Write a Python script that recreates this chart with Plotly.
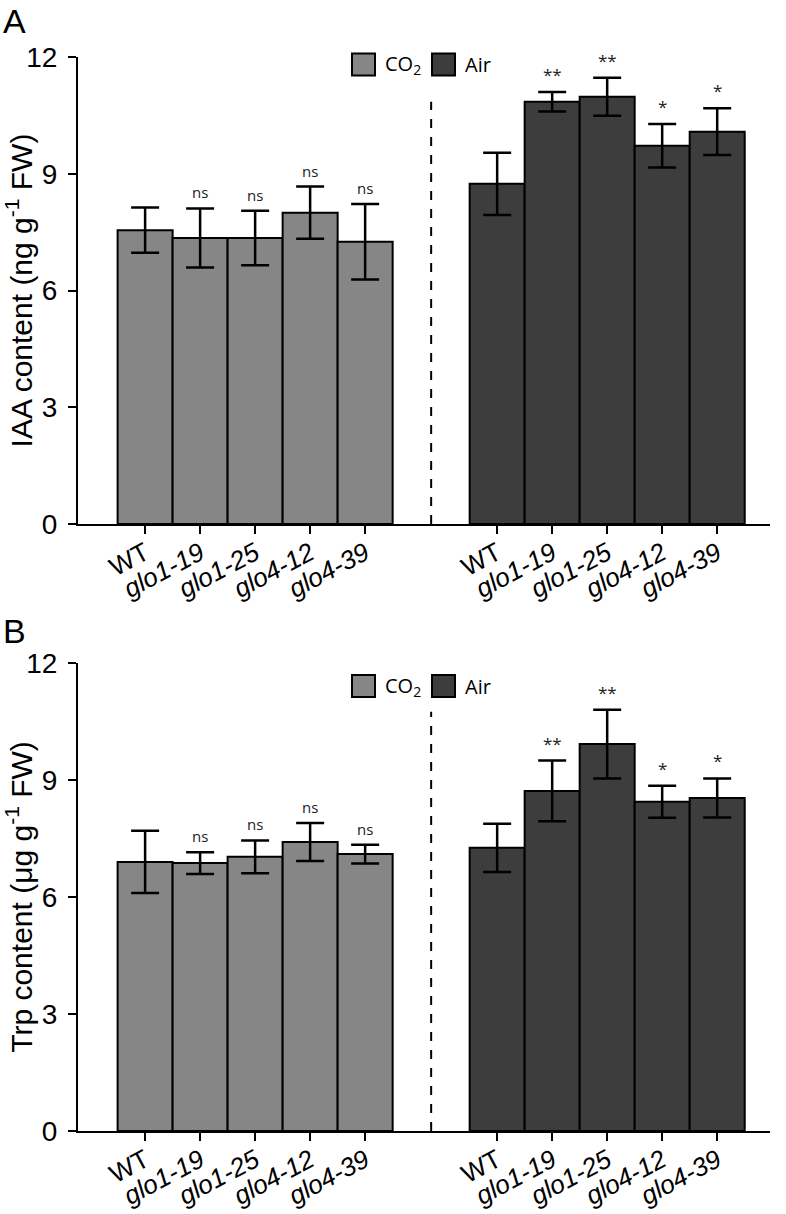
import plotly.graph_objects as go

# ---------------- data ----------------
genotypes = ["WT", "glo1-19", "glo1-25", "glo4-12", "glo4-39"]
tick_labels = ["WT", "<i>glo1-19</i>", "<i>glo1-25</i>", "<i>glo4-12</i>", "<i>glo4-39</i>"]

iaa_co2 = [7.55, 7.35, 7.35, 8.00, 7.25]
iaa_co2_err = [0.58, 0.76, 0.70, 0.67, 0.97]
iaa_air = [8.74, 10.85, 10.98, 9.72, 10.08]
iaa_air_err = [0.80, 0.25, 0.49, 0.56, 0.60]
iaa_co2_sig = ["", "ns", "ns", "ns", "ns"]
iaa_air_sig = ["", "**", "**", "*", "*"]

trp_co2 = [6.90, 6.87, 7.03, 7.41, 7.10]
trp_co2_err = [0.80, 0.28, 0.42, 0.49, 0.24]
trp_air = [7.26, 8.72, 9.92, 8.44, 8.54]
trp_air_err = [0.62, 0.78, 0.88, 0.41, 0.50]
trp_co2_sig = ["", "ns", "ns", "ns", "ns"]
trp_air_sig = ["", "**", "**", "*", "*"]

yticks = [0, 3, 6, 9, 12]

# ---------------- styling / layout ----------------
CO2_COLOR = "#868686"
AIR_COLOR = "#3d3d3d"
AXFONT = "Liberation Sans, Arial, sans-serif"
LEGFONT = "Open Sans, sans-serif"
W, H = 786, 1214
ML, MR, MT, MB = 78, 16, 57, 83
PW, PH = W - ML - MR, H - MT - MB


def px_x(px):
    return (px - ML) / PW


def px_y(py):
    return (H - MB - py) / PH


pos_co2 = [i for i in range(5)]
pos_air = [6.4 + i for i in range(5)]
divider_x = 5.2
xrange_ = [-1.22, 11.36]

fig = go.Figure()

panels = [
    dict(co2=iaa_co2, co2e=iaa_co2_err, air=iaa_air, aire=iaa_air_err,
         s1=iaa_co2_sig, s2=iaa_air_sig, xa="x", ya="y",
         title="IAA content (ng g<sup>-1</sup> FW)", letter="A",
         top_px=57, bot_px=524, letter_top=0, legend_y=64.5, dash_top=10.85),
    dict(co2=trp_co2, co2e=trp_co2_err, air=trp_air, aire=trp_air_err,
         s1=trp_co2_sig, s2=trp_air_sig, xa="x2", ya="y2",
         title="Trp content (μg g<sup>-1</sup> FW)", letter="B",
         top_px=663, bot_px=1131, letter_top=610, legend_y=686, dash_top=10.75),
]

annotations = []
shapes = []

for k, p in enumerate(panels):
    for pos, vals, errs, col, sig in [
        (pos_co2, p["co2"], p["co2e"], CO2_COLOR, p["s1"]),
        (pos_air, p["air"], p["aire"], AIR_COLOR, p["s2"]),
    ]:
        fig.add_trace(go.Bar(
            x=pos, y=vals, width=1.0, xaxis=p["xa"], yaxis=p["ya"],
            marker=dict(color=col, line=dict(color="black", width=2)),
            error_y=dict(type="data", array=errs, visible=True,
                         color="black", thickness=2.5, width=14),
            showlegend=False, hoverinfo="skip",
        ))
        for xv, v, e, s in zip(pos, vals, errs, sig):
            if s:
                annotations.append(dict(
                    x=xv, y=v + e, xref=p["xa"], yref=p["ya"], text=s,
                    showarrow=False, yanchor="bottom", yshift=4,
                    font=dict(family=LEGFONT, size=15 if s == "ns" else 17,
                              color="#222"),
                ))
    # dashed divider
    shapes.append(dict(type="line", xref=p["xa"], yref=p["ya"],
                       x0=divider_x, x1=divider_x, y0=0, y1=p["dash_top"],
                       line=dict(color="black", width=2, dash="dash")))
    # panel letter
    annotations.append(dict(x=px_x(1), y=px_y(p["letter_top"]), xref="paper",
                            yref="paper", text=p["letter"], showarrow=False,
                            xanchor="left", yanchor="top",
                            font=dict(family=AXFONT, size=34, color="black")))
    # legend (drawn)
    ly = px_y(p["legend_y"])
    box_h = 22 / PH
    for lx0, col, txt in [(352, CO2_COLOR, "CO<sub>2</sub>"), (432, AIR_COLOR, "Air")]:
        shapes.append(dict(type="rect", xref="paper", yref="paper",
                           x0=px_x(lx0), x1=px_x(lx0 + 23),
                           y0=ly - box_h / 2, y1=ly + box_h / 2,
                           fillcolor=col, line=dict(color="black", width=2)))
        annotations.append(dict(x=px_x(lx0 + 31), y=ly, xref="paper", yref="paper",
                                text=txt, showarrow=False, xanchor="left",
                                yanchor="middle",
                                font=dict(family=LEGFONT, size=20, color="black")))


def ydom(p):
    return [px_y(p["bot_px"]), px_y(p["top_px"])]


common_x = dict(range=xrange_, domain=[0, 1], tickmode="array",
                tickvals=pos_co2 + pos_air, ticktext=tick_labels + tick_labels,
                tickangle=-28, ticks="outside", ticklen=8, tickwidth=2,
                tickcolor="black", showline=True, linecolor="black", linewidth=2,
                showgrid=False, zeroline=False, automargin=False,
                ticklabelstandoff=-6,
                tickfont=dict(family=AXFONT, size=26, color="black"))
common_y = dict(range=[0, 12], tickvals=yticks, ticks="outside", ticklen=8,
                tickwidth=2, tickcolor="black", showline=True, linecolor="black",
                linewidth=2, showgrid=False, zeroline=False, automargin=False,
                ticklabelstandoff=5,
                tickfont=dict(family=AXFONT, size=28, color="black"),
                title_font=dict(family=AXFONT, size=30, color="black"),
                title_standoff=2)

fig.update_layout(
    width=W, height=H, margin=dict(l=ML, r=MR, t=MT, b=MB, autoexpand=False),
    paper_bgcolor="white", plot_bgcolor="white",
    barmode="overlay", showlegend=False,
    xaxis=dict(**common_x, anchor="y"),
    yaxis=dict(**common_y, domain=ydom(panels[0]), anchor="x",
               title_text=panels[0]["title"]),
    xaxis2=dict(**common_x, anchor="y2"),
    yaxis2=dict(**common_y, domain=ydom(panels[1]), anchor="x2",
                title_text=panels[1]["title"]),
    annotations=annotations, shapes=shapes,
)

fig.write_html("out.html", config={"displayModeBar": False},
               post_script="document.body.style.margin='0px';document.body.style.overflow='hidden';")
